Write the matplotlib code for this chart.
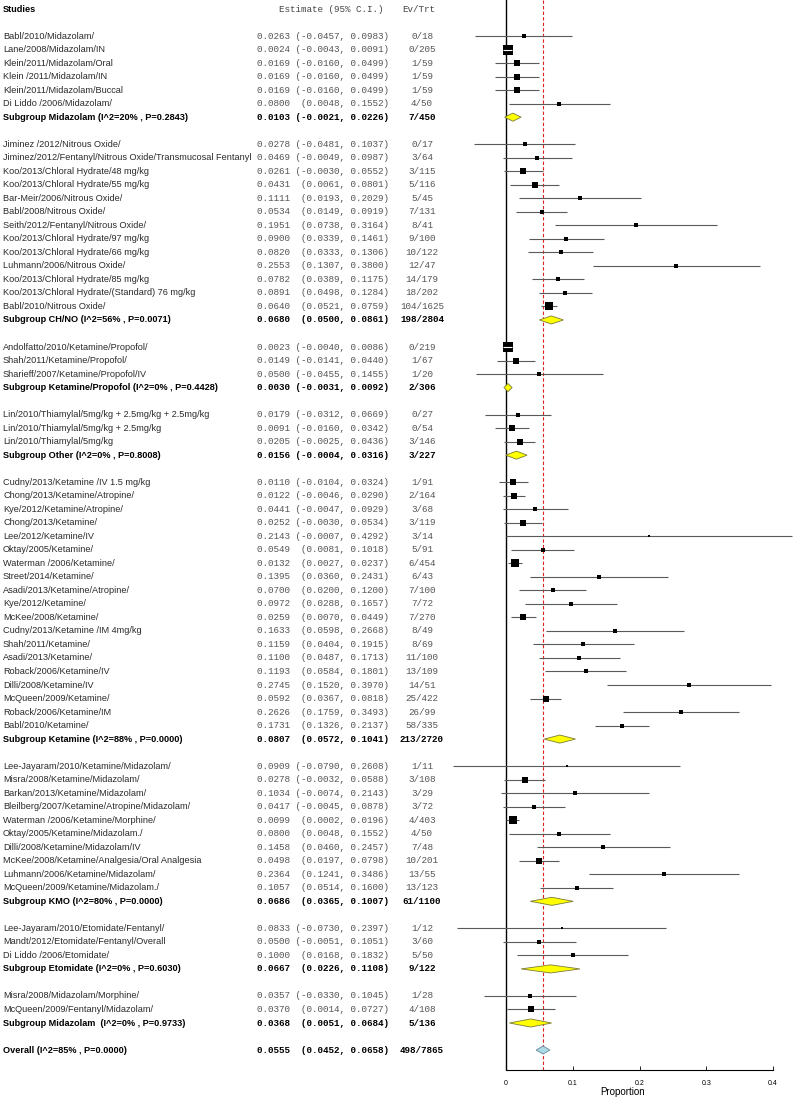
import matplotlib
matplotlib.use('Agg')
import matplotlib.pyplot as plt
import matplotlib.transforms as mtransforms
from matplotlib.patches import Polygon

# ---------------- data ----------------
group_studies = [
    ["Babl/2010/Midazolam/", "Lane/2008/Midazolam/IN", "Klein/2011/Midazolam/Oral",
     "Klein /2011/Midazolam/IN", "Klein/2011/Midazolam/Buccal", "Di Liddo /2006/Midazolam/"],
    ["Jiminez /2012/Nitrous Oxide/", "Jiminez/2012/Fentanyl/Nitrous Oxide/Transmucosal Fentanyl",
     "Koo/2013/Chloral Hydrate/48 mg/kg", "Koo/2013/Chloral Hydrate/55 mg/kg",
     "Bar-Meir/2006/Nitrous Oxide/", "Babl/2008/Nitrous Oxide/", "Seith/2012/Fentanyl/Nitrous Oxide/",
     "Koo/2013/Chloral Hydrate/97 mg/kg", "Koo/2013/Chloral Hydrate/66 mg/kg",
     "Luhmann/2006/Nitrous Oxide/", "Koo/2013/Chloral Hydrate/85 mg/kg",
     "Koo/2013/Chloral Hydrate/(Standard) 76 mg/kg", "Babl/2010/Nitrous Oxide/"],
    ["Andolfatto/2010/Ketamine/Propofol/", "Shah/2011/Ketamine/Propofol/",
     "Sharieff/2007/Ketamine/Propofol/IV"],
    ["Lin/2010/Thiamylal/5mg/kg + 2.5mg/kg + 2.5mg/kg", "Lin/2010/Thiamylal/5mg/kg + 2.5mg/kg",
     "Lin/2010/Thiamylal/5mg/kg"],
    ["Cudny/2013/Ketamine /IV 1.5 mg/kg", "Chong/2013/Ketamine/Atropine/", "Kye/2012/Ketamine/Atropine/",
     "Chong/2013/Ketamine/", "Lee/2012/Ketamine/IV", "Oktay/2005/Ketamine/", "Waterman /2006/Ketamine/",
     "Street/2014/Ketamine/", "Asadi/2013/Ketamine/Atropine/", "Kye/2012/Ketamine/", "McKee/2008/Ketamine/",
     "Cudny/2013/Ketamine /IM 4mg/kg", "Shah/2011/Ketamine/", "Asadi/2013/Ketamine/",
     "Roback/2006/Ketamine/IV", "Dilli/2008/Ketamine/IV", "McQueen/2009/Ketamine/",
     "Roback/2006/Ketamine/IM", "Babl/2010/Ketamine/"],
    ["Lee-Jayaram/2010/Ketamine/Midazolam/", "Misra/2008/Ketamine/Midazolam/",
     "Barkan/2013/Ketamine/Midazolam/", "Bleilberg/2007/Ketamine/Atropine/Midazolam/",
     "Waterman /2006/Ketamine/Morphine/", "Oktay/2005/Ketamine/Midazolam./",
     "Dilli/2008/Ketamine/Midazolam/IV", "McKee/2008/Ketamine/Analgesia/Oral Analgesia",
     "Luhmann/2006/Ketamine/Midazolam/", "McQueen/2009/Ketamine/Midazolam./"],
    ["Lee-Jayaram/2010/Etomidate/Fentanyl/", "Mandt/2012/Etomidate/Fentanyl/Overall",
     "Di Liddo /2006/Etomidate/"],
    ["Misra/2008/Midazolam/Morphine/", "McQueen/2009/Fentanyl/Midazolam/"],
]
group_est = [
    [0.0263, 0.0024, 0.0169, 0.0169, 0.0169, 0.0800],
    [0.0278, 0.0469, 0.0261, 0.0431, 0.1111, 0.0534, 0.1951, 0.0900, 0.0820, 0.2553, 0.0782, 0.0891, 0.0640],
    [0.0023, 0.0149, 0.0500],
    [0.0179, 0.0091, 0.0205],
    [0.0110, 0.0122, 0.0441, 0.0252, 0.2143, 0.0549, 0.0132, 0.1395, 0.0700, 0.0972, 0.0259, 0.1633,
     0.1159, 0.1100, 0.1193, 0.2745, 0.0592, 0.2626, 0.1731],
    [0.0909, 0.0278, 0.1034, 0.0417, 0.0099, 0.0800, 0.1458, 0.0498, 0.2364, 0.1057],
    [0.0833, 0.0500, 0.1000],
    [0.0357, 0.0370],
]
group_lo = [
    [-0.0457, -0.0043, -0.0160, -0.0160, -0.0160, 0.0048],
    [-0.0481, -0.0049, -0.0030, 0.0061, 0.0193, 0.0149, 0.0738, 0.0339, 0.0333, 0.1307, 0.0389, 0.0498, 0.0521],
    [-0.0040, -0.0141, -0.0455],
    [-0.0312, -0.0160, -0.0025],
    [-0.0104, -0.0046, -0.0047, -0.0030, -0.0007, 0.0081, 0.0027, 0.0360, 0.0200, 0.0288, 0.0070, 0.0598,
     0.0404, 0.0487, 0.0584, 0.1520, 0.0367, 0.1759, 0.1326],
    [-0.0790, -0.0032, -0.0074, -0.0045, 0.0002, 0.0048, 0.0460, 0.0197, 0.1241, 0.0514],
    [-0.0730, -0.0051, 0.0168],
    [-0.0330, 0.0014],
]
group_hi = [
    [0.0983, 0.0091, 0.0499, 0.0499, 0.0499, 0.1552],
    [0.1037, 0.0987, 0.0552, 0.0801, 0.2029, 0.0919, 0.3164, 0.1461, 0.1306, 0.3800, 0.1175, 0.1284, 0.0759],
    [0.0086, 0.0440, 0.1455],
    [0.0669, 0.0342, 0.0436],
    [0.0324, 0.0290, 0.0929, 0.0534, 0.4292, 0.1018, 0.0237, 0.2431, 0.1200, 0.1657, 0.0449, 0.2668,
     0.1915, 0.1713, 0.1801, 0.3970, 0.0818, 0.3493, 0.2137],
    [0.2608, 0.0588, 0.2143, 0.0878, 0.0196, 0.1552, 0.2457, 0.0798, 0.3486, 0.1600],
    [0.2397, 0.1051, 0.1832],
    [0.1045, 0.0727],
]
group_events = [
    [0, 0, 1, 1, 1, 4],
    [0, 3, 3, 5, 5, 7, 8, 9, 10, 12, 14, 18, 104],
    [0, 1, 1],
    [0, 0, 3],
    [1, 2, 3, 3, 3, 5, 6, 6, 7, 7, 7, 8, 8, 11, 13, 14, 25, 26, 58],
    [1, 3, 3, 3, 4, 4, 7, 10, 13, 13],
    [1, 3, 5],
    [1, 4],
]
group_totals = [
    [18, 205, 59, 59, 59, 50],
    [17, 64, 115, 116, 45, 131, 41, 100, 122, 47, 179, 202, 1625],
    [219, 67, 20],
    [27, 54, 146],
    [91, 164, 68, 119, 14, 91, 454, 43, 100, 72, 270, 49, 69, 100, 109, 51, 422, 99, 335],
    [11, 108, 29, 72, 403, 50, 48, 201, 55, 123],
    [12, 60, 50],
    [28, 108],
]
sub_labels = ["Subgroup Midazolam (I^2=20% , P=0.2843)", "Subgroup CH/NO (I^2=56% , P=0.0071)",
              "Subgroup Ketamine/Propofol (I^2=0% , P=0.4428)", "Subgroup Other (I^2=0% , P=0.8008)",
              "Subgroup Ketamine (I^2=88% , P=0.0000)", "Subgroup KMO (I^2=80% , P=0.0000)",
              "Subgroup Etomidate (I^2=0% , P=0.6030)", "Subgroup Midazolam  (I^2=0% , P=0.9733)"]
sub_est = [0.0103, 0.0680, 0.0030, 0.0156, 0.0807, 0.0686, 0.0667, 0.0368]
sub_lo = [-0.0021, 0.0500, -0.0031, -0.0004, 0.0572, 0.0365, 0.0226, 0.0051]
sub_hi = [0.0226, 0.0861, 0.0092, 0.0316, 0.1041, 0.1007, 0.1108, 0.0684]
sub_events = [7, 198, 2, 3, 213, 61, 9, 5]
sub_totals = [450, 2804, 306, 227, 2720, 1100, 122, 136]
overall_label = "Overall (I^2=85% , P=0.0000)"
overall_est, overall_lo, overall_hi = 0.0555, 0.0452, 0.0658
overall_events, overall_totals = 498, 7865
x_ticks = [0, 0.1, 0.2, 0.3, 0.4]
x_tick_labels = ["0", "0.1", "0.2", "0.3", "0.4"]

# ---------------- layout ----------------
W, H = 794, 1099
fig = plt.figure(figsize=(W / 100, H / 100), dpi=100)
x0_px, px_per_unit = 506.0, 667.5
ax_left_px, ax_right_px, ax_top_px, ax_bot_px = 420, 794, 0, 1070
row0_px, row_h = 9.0, 13.52

ax = fig.add_axes([ax_left_px / W, (H - ax_bot_px) / H,
                   (ax_right_px - ax_left_px) / W, (ax_bot_px - ax_top_px) / H])
ax.set_xlim((ax_left_px - x0_px) / px_per_unit, (ax_right_px - x0_px) / px_per_unit)
ax.set_ylim((ax_bot_px - row0_px) / row_h, (ax_top_px - row0_px) / row_h)
for s in ['top', 'right', 'left']:
    ax.spines[s].set_visible(False)
ax.spines['bottom'].set_bounds(0, 0.4)
ax.spines['bottom'].set_linewidth(0.8)
ax.set_yticks([])
ax.set_xticks(x_ticks)
ax.set_xticklabels(x_tick_labels, fontsize=5, family='Liberation Sans')
ax.tick_params(axis='x', direction='in', length=3, width=0.6, pad=7)
ax.patch.set_alpha(0)

trans = mtransforms.blended_transform_factory(fig.transFigure, ax.transData)
NAME_X, EST_X, EV_X = 3 / W, 257 / W, 422 / W
name_font = dict(family='Liberation Sans', fontsize=6.55)
mono_font = dict(family='Liberation Mono', fontsize=6.7)


def est_str(e, l, h):
    ls = f"{l:.4f}"
    return f"{e:.4f} " + ("(" if l < 0 else " (") + ls + f", {h:.4f})"


def row_text(r, name, e, l, h, ev, tot, bold):
    fw = 'bold' if bold else 'normal'
    col = 'black' if bold else '#2a2a2a'
    ax.text(NAME_X, r, name, transform=trans, va='center', ha='left', color=col,
            fontweight=fw, **name_font)
    ax.text(EST_X, r, est_str(e, l, h), transform=trans, va='center', ha='left',
            color=col if bold else '#555555', fontweight=fw, **mono_font)
    ax.text(EV_X, r, f"{ev}/{tot}", transform=trans, va='center', ha='center',
            color=col if bold else '#555555', fontweight=fw, **mono_font)


def diamond(r, e, l, h, fc, ec):
    ax.add_patch(Polygon([(l, r), (e, r - 0.3), (h, r), (e, r + 0.3)], closed=True,
                         facecolor=fc, edgecolor=ec, lw=0.6, zorder=4))


# header
ax.text(NAME_X, 0, "Studies", transform=trans, va='center', ha='left', fontweight='bold', **name_font)
ax.text(279 / W, 0, "Estimate (95% C.I.)", transform=trans, va='center', ha='left',
        color='#444444', **mono_font)
ax.text(402 / W, 0, "Ev/Trt", transform=trans, va='center', ha='left', color='#444444', **mono_font)

ax.axvline(0, color='black', lw=1.0, zorder=2)
ax.axvline(overall_est, color='#e02020', lw=0.8, ls=(0, (3, 2)), zorder=2)

row = 1
for g in range(len(group_studies)):
    row += 1
    for i, name in enumerate(group_studies[g]):
        e, l, h = group_est[g][i], group_lo[g][i], group_hi[g][i]
        row_text(row, name, e, l, h, group_events[g][i], group_totals[g][i], False)
        se = (h - l) / 3.92
        side_px = max(2.4, 10.0 * (se / 0.00342) ** -0.4)
        ax.hlines(row, l, h, color='#5a5a5a', lw=0.8, zorder=3)
        ax.plot([e], [row], marker='s', ms=side_px * 0.72, color='black', mew=0, zorder=5)
        if (h - l) * px_per_unit < side_px:
            ax.hlines(row, l, h, color='white', lw=0.8, zorder=6)
        row += 1
    row_text(row, sub_labels[g], sub_est[g], sub_lo[g], sub_hi[g], sub_events[g], sub_totals[g], True)
    diamond(row, sub_est[g], sub_lo[g], sub_hi[g], '#ffff00', '#7a7a3a')
    row += 1

row += 1
row_text(row, overall_label, overall_est, overall_lo, overall_hi, overall_events, overall_totals, True)
diamond(row, overall_est, overall_lo, overall_hi, '#add8e6', '#6a8a9a')

fig.text(623 / W, 1 - 1092 / H, "Proportion", ha='center', va='center',
         family='Liberation Sans', fontsize=7)

fig.savefig('out.png', dpi=100)
